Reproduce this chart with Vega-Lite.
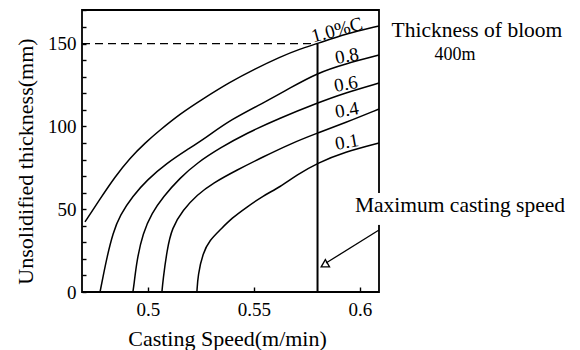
{
  "$schema": "https://vega.github.io/schema/vega-lite/v6.json",
  "width": 297,
  "height": 282,
  "autosize": {"type": "none"},
  "padding": {"left": 82, "top": 10, "right": 201, "bottom": 58},
  "background": "white",
  "config": {
    "view": {"stroke": "black", "strokeWidth": 1.8},
    "axis": {
      "domain": false, "grid": false, "ticks": true, "tickColor": "black", "tickOpacity": 1, "tickWidth": 1.4, "zindex": 1,
      "labelFont": "Liberation Serif", "labelFontSize": 19, "labelColor": "black",
      "titleFont": "Liberation Serif", "titleFontSize": 22, "titleFontWeight": "normal", "titleColor": "black"
    },
    "text": {"font": "Liberation Serif", "color": "black"}
  },
  "datasets": {
    "curves": [
      {"c": "1.0", "x": 0.4703, "y": 42.3}, {"c": "1.0", "x": 0.4774, "y": 56.2}, {"c": "1.0", "x": 0.4844, "y": 69.5},
      {"c": "1.0", "x": 0.4915, "y": 80.9}, {"c": "1.0", "x": 0.4986, "y": 90.0}, {"c": "1.0", "x": 0.5057, "y": 97.8},
      {"c": "1.0", "x": 0.5151, "y": 107.5}, {"c": "1.0", "x": 0.5259, "y": 116.6}, {"c": "1.0", "x": 0.5387, "y": 126.8},
      {"c": "1.0", "x": 0.5505, "y": 134.7}, {"c": "1.0", "x": 0.5623, "y": 141.9}, {"c": "1.0", "x": 0.5717, "y": 146.8},
      {"c": "1.0", "x": 0.58, "y": 150.0}, {"c": "1.0", "x": 0.5929, "y": 155.8}, {"c": "1.0", "x": 0.609, "y": 160.7},

      {"c": "0.8", "x": 0.4774, "y": 0}, {"c": "0.8", "x": 0.4788, "y": 9.1}, {"c": "0.8", "x": 0.4807, "y": 21.1},
      {"c": "0.8", "x": 0.4835, "y": 35.6}, {"c": "0.8", "x": 0.4868, "y": 46.5}, {"c": "0.8", "x": 0.4929, "y": 58.0},
      {"c": "0.8", "x": 0.4995, "y": 67.6}, {"c": "0.8", "x": 0.5090, "y": 77.9}, {"c": "0.8", "x": 0.5184, "y": 85.8},
      {"c": "0.8", "x": 0.5278, "y": 93.6}, {"c": "0.8", "x": 0.5387, "y": 103.9}, {"c": "0.8", "x": 0.5561, "y": 115.3},
      {"c": "0.8", "x": 0.5670, "y": 123.2}, {"c": "0.8", "x": 0.58, "y": 132.3}, {"c": "0.8", "x": 0.5929, "y": 137.7},
      {"c": "0.8", "x": 0.609, "y": 143.1},

      {"c": "0.6", "x": 0.4929, "y": 0}, {"c": "0.6", "x": 0.4934, "y": 4.2}, {"c": "0.6", "x": 0.4948, "y": 19.3},
      {"c": "0.6", "x": 0.4976, "y": 35.6}, {"c": "0.6", "x": 0.5019, "y": 47.7}, {"c": "0.6", "x": 0.5071, "y": 57.4},
      {"c": "0.6", "x": 0.5151, "y": 68.9}, {"c": "0.6", "x": 0.5231, "y": 77.9}, {"c": "0.6", "x": 0.5340, "y": 87.0},
      {"c": "0.6", "x": 0.5467, "y": 96.0}, {"c": "0.6", "x": 0.5623, "y": 105.1}, {"c": "0.6", "x": 0.58, "y": 114.2},
      {"c": "0.6", "x": 0.5929, "y": 120.2}, {"c": "0.6", "x": 0.609, "y": 126.2},

      {"c": "0.4", "x": 0.5066, "y": 0}, {"c": "0.4", "x": 0.5071, "y": 7.2}, {"c": "0.4", "x": 0.5090, "y": 25.4},
      {"c": "0.4", "x": 0.5113, "y": 38.7}, {"c": "0.4", "x": 0.5165, "y": 49.5}, {"c": "0.4", "x": 0.5231, "y": 58.6},
      {"c": "0.4", "x": 0.5307, "y": 65.8}, {"c": "0.4", "x": 0.5420, "y": 73.7}, {"c": "0.4", "x": 0.5542, "y": 81.5},
      {"c": "0.4", "x": 0.5670, "y": 89.4}, {"c": "0.4", "x": 0.58, "y": 96.0}, {"c": "0.4", "x": 0.5929, "y": 102.1},
      {"c": "0.4", "x": 0.609, "y": 110.5},

      {"c": "0.1", "x": 0.5231, "y": 0}, {"c": "0.1", "x": 0.5236, "y": 10.3}, {"c": "0.1", "x": 0.5259, "y": 23.6},
      {"c": "0.1", "x": 0.5292, "y": 31.4}, {"c": "0.1", "x": 0.5340, "y": 37.4}, {"c": "0.1", "x": 0.5396, "y": 44.7},
      {"c": "0.1", "x": 0.5467, "y": 51.3}, {"c": "0.1", "x": 0.5542, "y": 58.0}, {"c": "0.1", "x": 0.5623, "y": 63.4},
      {"c": "0.1", "x": 0.5703, "y": 70.7}, {"c": "0.1", "x": 0.58, "y": 77.9}, {"c": "0.1", "x": 0.5929, "y": 84.6},
      {"c": "0.1", "x": 0.609, "y": 90.0}
    ],
    "dashed": [{"x": 0.4689, "x2": 0.58, "y": 150}],
    "maxline": [{"x": 0.58, "y": 0, "y2": 150}],
    "gap": [{"x": 0.6075, "x2": 0.6105, "y": 40.5, "y2": 59.8}],
    "arrow": [{"x": 0.5840, "y": 17.5, "x2": 0.609, "y2": 37.4}],
    "arrowhead": [{"x": 0.5832, "y": 16.3}],
    "toplabel": [{"x": 0.5892, "y": 158.2, "t": "1.0%C"}],
    "labels": [
      {"x": 0.5939, "y": 142.5, "t": "0.8"},
      {"x": 0.5934, "y": 125.6, "t": "0.6"},
      {"x": 0.5939, "y": 109.9, "t": "0.4"},
      {"x": 0.5939, "y": 90.6, "t": "0.1"}
    ],
    "notes": [
      {"x": 0.6552, "y": 154.0, "t": "Thickness of bloom", "s": "big"},
      {"x": 0.6448, "y": 140.1, "t": "400m", "s": "small"},
      {"x": 0.6472, "y": 48.3, "t": "Maximum casting speed", "s": "big"}
    ]
  },
  "encoding": {
    "x": {
      "field": "x", "type": "quantitative",
      "scale": {"domain": [0.4689, 0.609], "zero": false, "nice": false},
      "axis": {"title": "Casting Speed(m/min)", "values": [0.5, 0.55, 0.6], "format": ".2~f",
               "offset": -5, "tickSize": 5, "labelPadding": 8,
               "titleX": 145, "titleY": 58, "titleBaseline": "alphabetic", "titleAnchor": "start", "titleAlign": "center"}
    },
    "y": {
      "field": "y", "type": "quantitative",
      "scale": {"domain": [0, 170.3], "zero": false, "nice": false},
      "axis": {"title": "Unsolidified thickness(mm)",
               "values": [0, 10, 20, 30, 40, 50, 60, 70, 80, 90, 100, 110, 120, 130, 140, 150, 160, 170],
               "labelExpr": "datum.value % 50 == 0 ? datum.label : ''",
               "offset": -4, "tickSize": 4, "labelPadding": 6,
               "titleX": -61, "titleY": 151, "titleBaseline": "middle", "titleAlign": "center", "titleAngle": 270}
    }
  },
  "layer": [
    {
      "data": {"name": "curves"},
      "mark": {"type": "line", "color": "black", "strokeWidth": 1.5, "interpolate": "basis"},
      "encoding": {"detail": {"field": "c"}}
    },
    {
      "data": {"name": "dashed"},
      "mark": {"type": "rule", "color": "black", "strokeWidth": 1.3, "strokeDash": [8, 5]},
      "encoding": {"x2": {"field": "x2"}}
    },
    {
      "data": {"name": "maxline"},
      "mark": {"type": "rule", "color": "black", "strokeWidth": 2},
      "encoding": {"y2": {"field": "y2"}}
    },
    {
      "data": {"name": "gap"},
      "mark": {"type": "rect", "color": "white", "opacity": 1},
      "encoding": {"x2": {"field": "x2"}, "y2": {"field": "y2"}}
    },
    {
      "data": {"name": "arrow"},
      "mark": {"type": "rule", "color": "black", "strokeWidth": 1.3},
      "encoding": {"x2": {"field": "x2"}, "y2": {"field": "y2"}}
    },
    {
      "data": {"name": "arrowhead"},
      "mark": {"type": "point", "shape": "triangle-left", "filled": false, "stroke": "black", "strokeWidth": 1.3, "size": 70, "angle": 330, "opacity": 1}
    },
    {
      "data": {"name": "toplabel"},
      "mark": {"type": "text", "fontSize": 19, "angle": 345, "align": "center", "baseline": "middle"},
      "encoding": {"text": {"field": "t"}}
    },
    {
      "data": {"name": "labels"},
      "mark": {"type": "text", "fontSize": 19, "angle": 350, "align": "center", "baseline": "middle"},
      "encoding": {"text": {"field": "t"}}
    },
    {
      "data": {"name": "notes"},
      "transform": [{"filter": "datum.s == 'big'"}],
      "mark": {"type": "text", "fontSize": 21.5, "align": "center", "baseline": "alphabetic"},
      "encoding": {"text": {"field": "t"}}
    },
    {
      "data": {"name": "notes"},
      "transform": [{"filter": "datum.s == 'small'"}],
      "mark": {"type": "text", "fontSize": 18, "align": "center", "baseline": "alphabetic"},
      "encoding": {"text": {"field": "t"}}
    }
  ]
}
